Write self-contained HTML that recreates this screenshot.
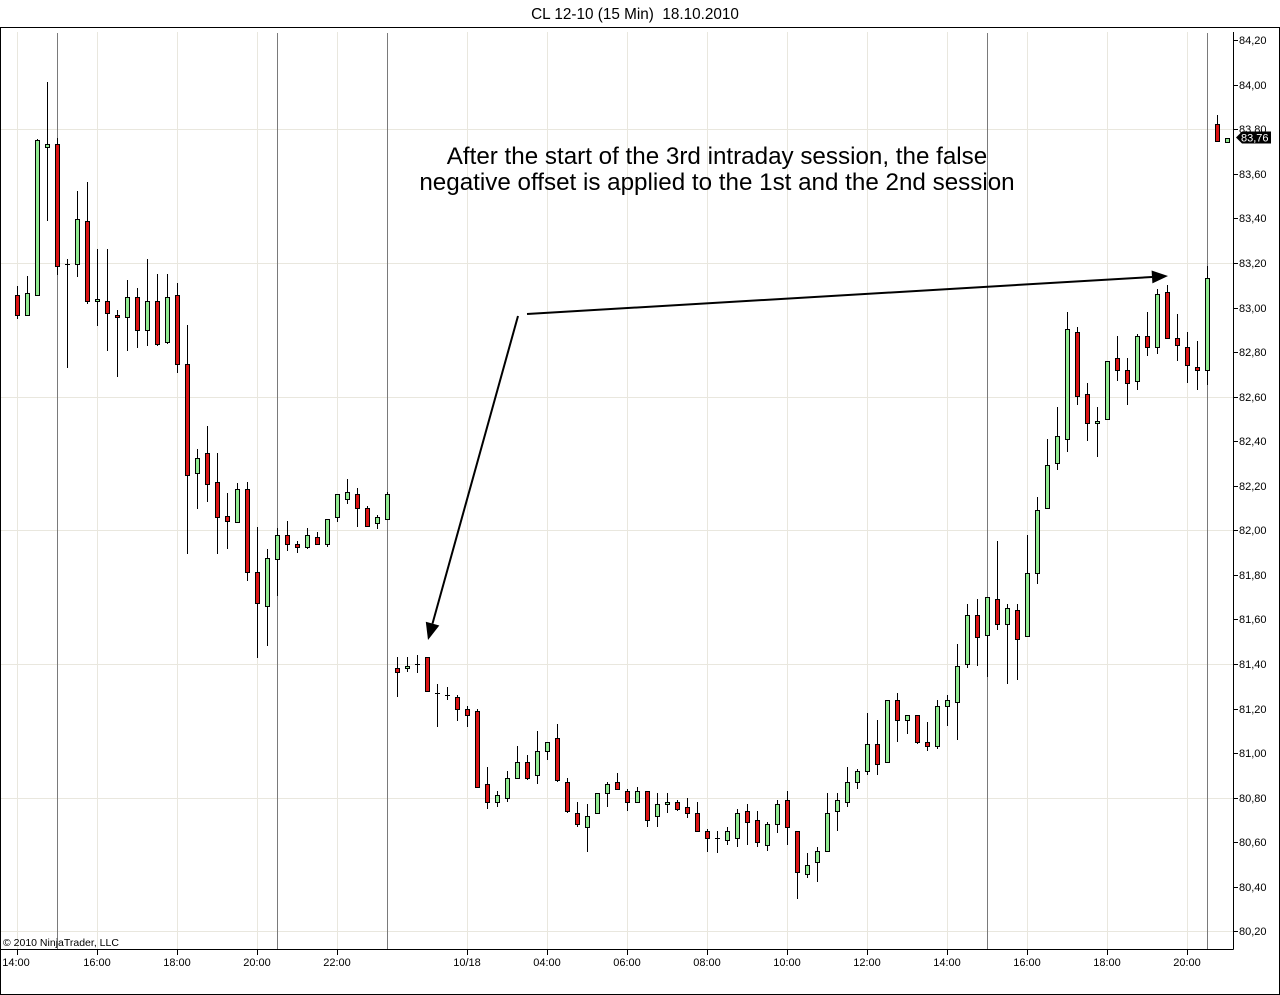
<!DOCTYPE html>
<html><head><meta charset="utf-8"><style>
html,body{margin:0;padding:0;background:#fff;}
svg{display:block;}
text{font-family:"Liberation Sans",Arial,sans-serif;fill:#000;}
</style></head><body>
<svg width="1280" height="995" viewBox="0 0 1280 995" xmlns="http://www.w3.org/2000/svg">
<rect x="0" y="0" width="1280" height="995" fill="#fff"/>
<text x="635" y="19" font-size="15.3" text-anchor="middle" style="white-space:pre">CL 12-10 (15 Min)  18.10.2010</text>
<rect x="0.5" y="27.5" width="1279" height="967" fill="none" stroke="#000" stroke-width="1"/>
<g stroke="#e9e7de" stroke-width="1" shape-rendering="crispEdges">
<path d="M17.5 32V949M97.5 32V949M177.5 32V949M257.5 32V949M337.5 32V949M467.5 32V949M547.5 32V949M627.5 32V949M707.5 32V949M787.5 32V949M867.5 32V949M947.5 32V949M1027.5 32V949M1107.5 32V949M1187.5 32V949"/>
<path d="M1 129.5H1233M1 263.5H1233M1 397.5H1233M1 530.5H1233M1 664.5H1233M1 798.5H1233M1 931.5H1233"/>
</g>
<g stroke="#7a7a7a" stroke-width="1" shape-rendering="crispEdges">
<path d="M57.5 33V949M277.5 33V949M387.5 33V949M987.5 33V949M1207.5 33V949"/>
</g>
<g stroke="#000" stroke-width="1" fill="none" shape-rendering="crispEdges">
<path d="M17.5 286V319M27.5 276V315M37.5 139V295M47.5 82V221M57.5 138V275M67.5 259V368M77.5 191V277M87.5 182V304M97.5 249V326M107.5 249V351M117.5 310V377M127.5 280V351M137.5 288V348M147.5 259V346M157.5 274V346M167.5 274V344M177.5 283V373M187.5 325V554M197.5 449V509M207.5 426V502M217.5 453V554M227.5 493V549M237.5 483V522M247.5 482V581M257.5 527V658M267.5 549V646M277.5 528V596M287.5 521V551M297.5 541V553M307.5 528V549M317.5 532V544M327.5 519V547M337.5 494V522M347.5 479V504M357.5 488V527M367.5 506V526M377.5 515V529M387.5 492V519M397.5 657V697M407.5 657V672M417.5 655V673M427.5 657V691M437.5 684V727M447.5 687V700M457.5 695V721M467.5 706V727M477.5 709V787M487.5 767V809M497.5 791V807M507.5 771V802M517.5 746V778M527.5 755V780M537.5 731V784M547.5 742V760M557.5 724V782M567.5 778V813M577.5 802V827M587.5 804V852M597.5 793V813M607.5 782V807M617.5 773V789M627.5 789V811M637.5 787V802M647.5 791V827M657.5 793V827M667.5 793V813M677.5 800V811M687.5 798V818M697.5 802V831M707.5 829V852M717.5 831V853M727.5 827V845M737.5 809V847M747.5 804V845M757.5 811V847M767.5 822V851M777.5 800V833M787.5 791V845M797.5 831V899M807.5 853V878M817.5 847V882M827.5 793V851M837.5 793V831M847.5 767V807M857.5 769V789M867.5 713V775M877.5 720V775M887.5 700V762M897.5 693V742M907.5 715V734M917.5 715V744M927.5 722V751M937.5 700V749M947.5 695V726M957.5 644V740M967.5 604V668M977.5 599V666M987.5 597V677M997.5 541V630M1007.5 604V684M1017.5 604V680M1027.5 535V637M1037.5 497V584M1047.5 439V508M1057.5 407V470M1067.5 312V452M1077.5 327V405M1087.5 383V441M1097.5 407V457M1107.5 361V419M1117.5 336V381M1127.5 358V405M1137.5 334V390M1147.5 312V356M1157.5 289V354M1167.5 285V338M1177.5 314V361M1187.5 332V383M1197.5 341V390M1207.5 266V385M1217.5 115V142"/>
<path d="M65 264.5h5M415 664.5h5M435 693.5h5M445 695.5h5M715 838.5h5"/>
</g>
<path fill="#dc1212" stroke="#000" stroke-width="1" shape-rendering="crispEdges" d="M15.5 295.5h4v20h-4zM55.5 144.5h4v122h-4zM85.5 221.5h4v80h-4zM105.5 301.5h4v12h-4zM115.5 315.5h4v2h-4zM135.5 297.5h4v33h-4zM155.5 301.5h4v43h-4zM175.5 295.5h4v69h-4zM185.5 364.5h4v111h-4zM205.5 453.5h4v31h-4zM215.5 482.5h4v35h-4zM225.5 516.5h4v5h-4zM245.5 489.5h4v83h-4zM255.5 572.5h4v31h-4zM285.5 535.5h4v9h-4zM295.5 544.5h4v3h-4zM315.5 537.5h4v7h-4zM355.5 494.5h4v14h-4zM365.5 508.5h4v18h-4zM395.5 668.5h4v4h-4zM425.5 657.5h4v34h-4zM455.5 697.5h4v12h-4zM465.5 709.5h4v6h-4zM475.5 711.5h4v76h-4zM485.5 784.5h4v18h-4zM525.5 762.5h4v16h-4zM555.5 738.5h4v42h-4zM565.5 782.5h4v29h-4zM575.5 813.5h4v11h-4zM615.5 782.5h4v7h-4zM625.5 791.5h4v11h-4zM645.5 791.5h4v29h-4zM675.5 802.5h4v7h-4zM685.5 807.5h4v6h-4zM695.5 813.5h4v18h-4zM705.5 831.5h4v7h-4zM745.5 811.5h4v11h-4zM755.5 820.5h4v22h-4zM785.5 800.5h4v27h-4zM795.5 831.5h4v41h-4zM875.5 744.5h4v20h-4zM895.5 700.5h4v20h-4zM915.5 715.5h4v27h-4zM925.5 742.5h4v4h-4zM975.5 615.5h4v22h-4zM995.5 599.5h4v25h-4zM1015.5 610.5h4v29h-4zM1075.5 332.5h4v64h-4zM1085.5 394.5h4v29h-4zM1115.5 358.5h4v12h-4zM1125.5 370.5h4v13h-4zM1145.5 336.5h4v11h-4zM1165.5 292.5h4v46h-4zM1175.5 338.5h4v7h-4zM1185.5 347.5h4v18h-4zM1195.5 367.5h4v3h-4zM1215.5 124.5h4v17h-4z"/>
<path fill="#90ea90" stroke="#000" stroke-width="1" shape-rendering="crispEdges" d="M25.5 293.5h4v22h-4zM35.5 140.5h4v155h-4zM45.5 144.5h4v3h-4zM75.5 219.5h4v45h-4zM95.5 299.5h4v2h-4zM125.5 297.5h4v20h-4zM145.5 301.5h4v29h-4zM165.5 297.5h4v45h-4zM195.5 458.5h4v15h-4zM235.5 489.5h4v33h-4zM265.5 558.5h4v48h-4zM275.5 535.5h4v24h-4zM305.5 535.5h4v12h-4zM325.5 519.5h4v25h-4zM335.5 494.5h4v23h-4zM345.5 492.5h4v7h-4zM375.5 517.5h4v6h-4zM385.5 494.5h4v25h-4zM405.5 666.5h4v2h-4zM495.5 795.5h4v7h-4zM505.5 778.5h4v20h-4zM515.5 762.5h4v16h-4zM535.5 751.5h4v24h-4zM545.5 742.5h4v9h-4zM585.5 816.5h4v11h-4zM595.5 793.5h4v20h-4zM605.5 784.5h4v9h-4zM635.5 791.5h4v11h-4zM655.5 804.5h4v12h-4zM665.5 802.5h4v2h-4zM725.5 831.5h4v9h-4zM735.5 813.5h4v25h-4zM765.5 824.5h4v21h-4zM775.5 804.5h4v20h-4zM805.5 865.5h4v9h-4zM815.5 851.5h4v11h-4zM825.5 813.5h4v38h-4zM835.5 800.5h4v11h-4zM845.5 782.5h4v20h-4zM855.5 771.5h4v11h-4zM865.5 744.5h4v27h-4zM885.5 700.5h4v62h-4zM905.5 715.5h4v5h-4zM935.5 706.5h4v40h-4zM945.5 700.5h4v6h-4zM955.5 666.5h4v36h-4zM965.5 615.5h4v49h-4zM985.5 597.5h4v38h-4zM1005.5 608.5h4v16h-4zM1025.5 573.5h4v63h-4zM1035.5 510.5h4v63h-4zM1045.5 465.5h4v43h-4zM1055.5 436.5h4v27h-4zM1065.5 329.5h4v110h-4zM1095.5 421.5h4v2h-4zM1105.5 361.5h4v58h-4zM1135.5 336.5h4v45h-4zM1155.5 294.5h4v53h-4zM1205.5 278.5h4v92h-4zM1225.5 138.5h4v4h-4z"/>
<g stroke="#000" stroke-width="1" shape-rendering="crispEdges">
<path d="M1233.5 32V949.5M0 949.5H1233.5"/>
<path d="M17.5 949V955M97.5 949V955M177.5 949V955M257.5 949V955M337.5 949V955M467.5 949V955M547.5 949V955M627.5 949V955M707.5 949V955M787.5 949V955M867.5 949V955M947.5 949V955M1027.5 949V955M1107.5 949V955M1187.5 949V955"/>
<path d="M1233 40.5h5M1233 85.5h5M1233 129.5h5M1233 174.5h5M1233 218.5h5M1233 263.5h5M1233 308.5h5M1233 352.5h5M1233 397.5h5M1233 441.5h5M1233 486.5h5M1233 530.5h5M1233 575.5h5M1233 619.5h5M1233 664.5h5M1233 709.5h5M1233 753.5h5M1233 798.5h5M1233 842.5h5M1233 887.5h5M1233 931.5h5"/>
</g>
<g font-size="11">
<text x="1239" y="44">84,20</text>
<text x="1239" y="89">84,00</text>
<text x="1239" y="133">83,80</text>
<text x="1239" y="178">83,60</text>
<text x="1239" y="222">83,40</text>
<text x="1239" y="267">83,20</text>
<text x="1239" y="312">83,00</text>
<text x="1239" y="356">82,80</text>
<text x="1239" y="401">82,60</text>
<text x="1239" y="445">82,40</text>
<text x="1239" y="490">82,20</text>
<text x="1239" y="534">82,00</text>
<text x="1239" y="579">81,80</text>
<text x="1239" y="623">81,60</text>
<text x="1239" y="668">81,40</text>
<text x="1239" y="713">81,20</text>
<text x="1239" y="757">81,00</text>
<text x="1239" y="802">80,80</text>
<text x="1239" y="846">80,60</text>
<text x="1239" y="891">80,40</text>
<text x="1239" y="935">80,20</text>
</g>
<g font-size="11" text-anchor="middle">
<text x="16" y="966">14:00</text>
<text x="97" y="966">16:00</text>
<text x="177" y="966">18:00</text>
<text x="257" y="966">20:00</text>
<text x="337" y="966">22:00</text>
<text x="467" y="966">10/18</text>
<text x="547" y="966">04:00</text>
<text x="627" y="966">06:00</text>
<text x="707" y="966">08:00</text>
<text x="787" y="966">10:00</text>
<text x="867" y="966">12:00</text>
<text x="947" y="966">14:00</text>
<text x="1027" y="966">16:00</text>
<text x="1107" y="966">18:00</text>
<text x="1187" y="966">20:00</text>
</g>
<text x="3" y="946" font-size="10.5">© 2010 NinjaTrader, LLC</text>
<polygon points="1236,137.5 1242,131.5 1271,131.5 1271,143.5 1242,143.5" fill="#000"/>
<text x="1241" y="141.5" font-size="11" style="fill:#fff">83,76</text>
<g font-size="24.2" text-anchor="middle">
<text x="717" y="164">After the start of the 3rd intraday session, the false</text>
<text x="717" y="190">negative offset is applied to the 1st and the 2nd session</text>
</g>
<g stroke="#000" stroke-width="2" fill="none">
<path d="M527 314L1152 277"/>
<path d="M518 316L432.5 623.6"/>
</g>
<polygon points="1168,276 1152.4,283.4 1151.6,270.5" fill="#000"/>
<polygon points="428,640 439.3,625.5 425.8,621.7" fill="#000"/>
</svg>
</body></html>
